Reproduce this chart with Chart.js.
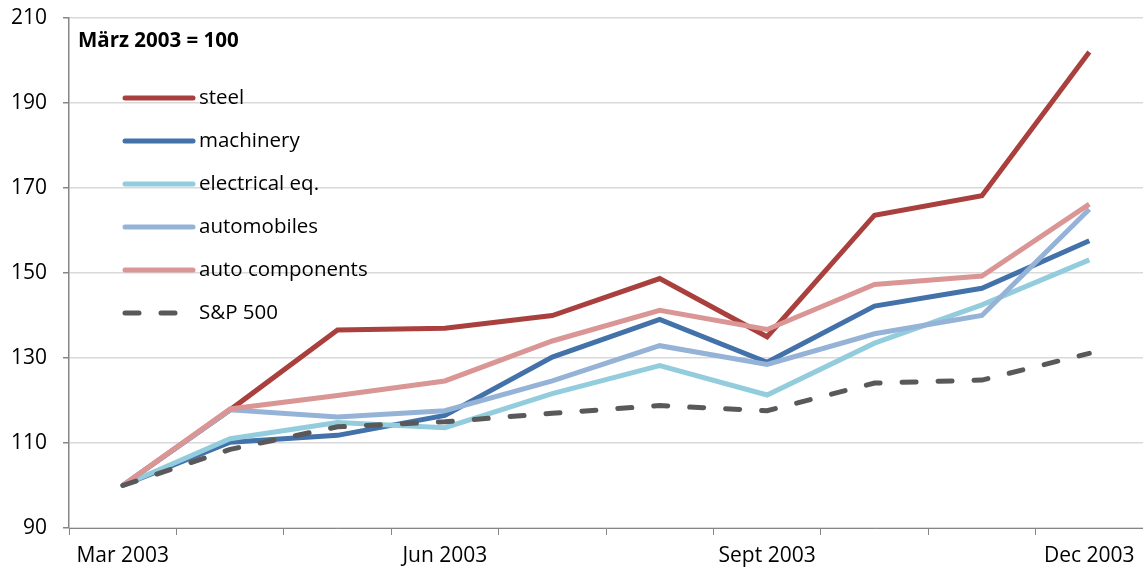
<!DOCTYPE html>
<html>
<head>
<meta charset="utf-8">
<script src="https://cdn.jsdelivr.net/npm/chart.js@4/dist/chart.umd.min.js"></script>
<style>
  html, body { margin: 0; padding: 0; background: #fff; }
  #wrap { width: 1143px; height: 569px; position: relative; }
</style>
</head>
<body>
<div id="wrap"><canvas id="myChart"></canvas></div>
<script>
const months = ['Mar 2003', 'Apr 2003', 'May 2003', 'Jun 2003', 'Jul 2003', 'Aug 2003', 'Sept 2003', 'Oct 2003', 'Nov 2003', 'Dec 2003'];
const shownMonths = ['Mar 2003', 'Jun 2003', 'Sept 2003', 'Dec 2003'];
const yTicks = [90, 110, 130, 150, 170, 190, 210];
const legendTitle = 'März 2003 = 100';

const steel = [100, 117.8, 136.6, 137, 140, 148.7, 135, 163.6, 168.2, 202];
const machinery = [100, 110.2, 111.8, 116.5, 130.2, 139.1, 129, 142.2, 146.4, 157.6];
const electrical = [100, 111, 114.8, 113.6, 121.6, 128.2, 121.3, 133.5, 142.5, 153.1];
const automobiles = [100, 117.8, 116.1, 117.6, 124.6, 132.9, 128.5, 135.7, 140, 165];
const autoComponents = [100, 118, 121.2, 124.6, 134, 141.2, 136.7, 147.3, 149.3, 166.2];
const sp500 = [100, 108.5, 113.8, 115, 117, 118.8, 117.6, 124.1, 124.8, 131.1];

const FONT = "'Open Sans', 'Noto Sans', sans-serif";

const series = [
    { label: 'steel', data: steel, color: '#A9403E' },
    { label: 'machinery', data: machinery, color: '#4371A9' },
    { label: 'electrical eq.', data: electrical, color: '#93CDDD' },
    { label: 'automobiles', data: automobiles, color: '#95B3D7' },
    { label: 'auto components', data: autoComponents, color: '#DA9694' },
    { label: 'S&P 500', data: sp500, color: '#595959', dash: [14, 22] }
];

// legend drawn inside the plot, top left
const insideLegend = {
    id: 'insideLegend',
    afterDraw(chart) {
        const c = chart.ctx;
        const area = chart.chartArea;
        c.save();
        c.fillStyle = '#000';
        c.font = 'bold 20.5px ' + FONT;
        c.textBaseline = 'middle';
        c.textAlign = 'left';
        c.fillText(legendTitle, area.left + 9, area.top + 23);
        chart.data.datasets.forEach((ds, i) => {
            const y = area.top + 80 + i * 43;
            c.beginPath();
            c.strokeStyle = ds.borderColor;
            c.lineWidth = 5;
            c.lineCap = 'round';
            c.setLineDash(ds.borderDash || []);
            c.moveTo(area.left + 56, y);
            c.lineTo(area.left + 124, y);
            c.stroke();
            c.setLineDash([]);
            c.font = '20.5px ' + FONT;
            c.fillStyle = '#000';
            c.fillText(ds.label, area.left + 130, y);
        });
        c.restore();
    }
};

const ctx = document.getElementById('myChart');

const myChart = new Chart(ctx, {
    type: 'line',
    data: {
        labels: months,
        datasets: series.map((s, i) => ({
            label: s.label,
            data: s.data,
            borderColor: s.color,
            backgroundColor: s.color,
            borderWidth: 5,
            borderDash: s.dash || [],
            borderCapStyle: s.dash ? 'round' : 'butt',
            borderJoinStyle: 'miter',
            pointRadius: 0,
            tension: 0,
            order: series.length - i
        }))
    },
    options: {
        responsive: true,
        maintainAspectRatio: false,
        animation: false,
        layout: {
            padding: { top: 18, right: 0, left: 0, bottom: 0 }
        },
        scales: {
            x: {
                offset: true,
                afterFit: (scale) => {
                    scale.height = 41;
                    scale.paddingLeft = 0;
                    scale.paddingRight = 0;
                },
                grid: {
                    offset: true,
                    drawOnChartArea: false,
                    drawTicks: true,
                    tickLength: 7,
                    color: '#868686'
                },
                border: { color: '#868686', width: 1 },
                ticks: {
                    autoSkip: false,
                    maxRotation: 0,
                    color: '#000',
                    padding: 8,
                    font: { family: FONT, size: 21 },
                    callback: function(value) {
                        const m = this.getLabelForValue(value);
                        return shownMonths.includes(m) ? m : '';
                    }
                }
            },
            y: {
                min: 90,
                max: 210,
                afterFit: (scale) => {
                    scale.width = 69;
                    scale.paddingTop = 0;
                    scale.paddingBottom = 0;
                },
                afterBuildTicks: (axis) => {
                    axis.ticks = yTicks.map(v => ({ value: v }));
                },
                grid: {
                    color: '#D9D9D9',
                    lineWidth: 1.5,
                    tickLength: 6,
                    tickColor: '#868686'
                },
                border: { color: '#868686', width: 1.5 },
                ticks: {
                    color: '#000',
                    padding: 16,
                    font: { family: FONT, size: 21 }
                }
            }
        },
        plugins: {
            legend: { display: false },
            tooltip: { enabled: false }
        }
    },
    plugins: [insideLegend]
});
</script>
</body>
</html>
